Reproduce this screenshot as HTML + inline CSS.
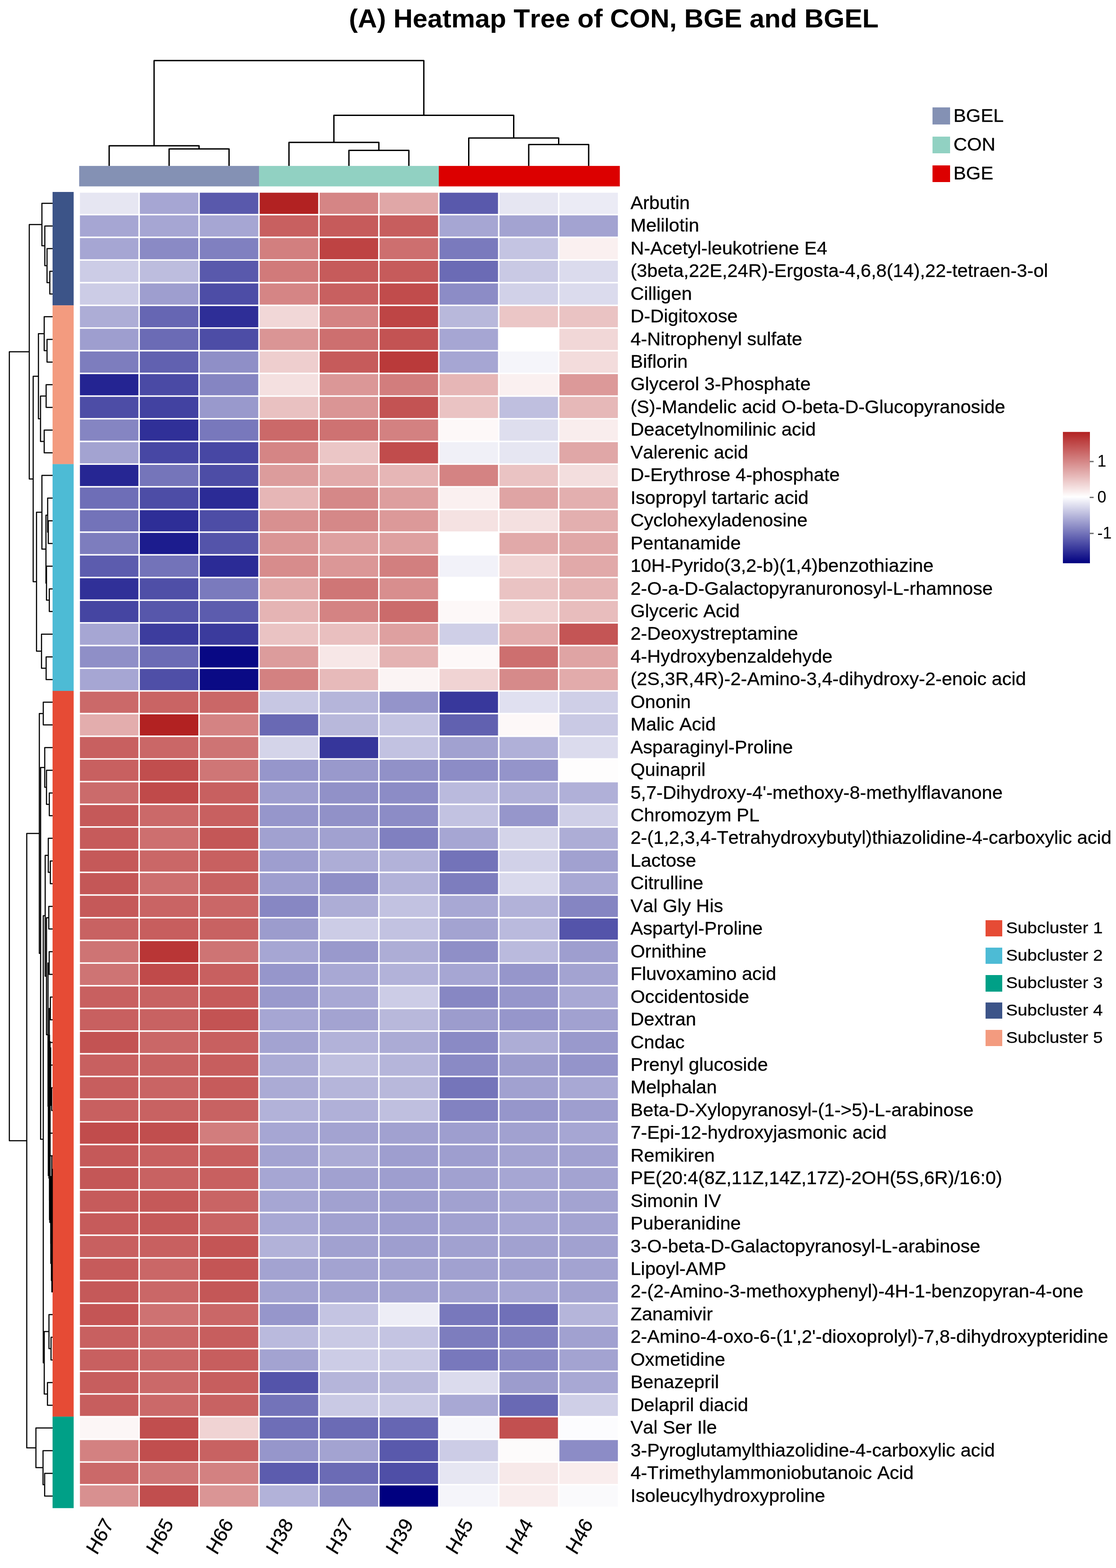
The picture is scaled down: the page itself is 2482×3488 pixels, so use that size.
<!DOCTYPE html>
<html lang="en"><head><meta charset="utf-8"><title>Heatmap Tree of CON, BGE and BGEL</title>
<style>html,body{margin:0;padding:0;background:#fff}body{width:2482px;height:3488px;overflow:hidden}svg{display:block}text{font-family:'Liberation Sans', Arial, Helvetica, sans-serif;fill:#000;font-kerning:none;font-variant-ligatures:none}.r text{stroke:#000;stroke-width:.35px;stroke-linejoin:round}</style>
</head><body>
<svg width="2482" height="3488" viewBox="0 0 2482 3488">
<rect width="2482" height="3488" fill="#fff"/>
<text transform="translate(776.0,61) scale(1,0.966)" font-size="59.41" font-weight="bold">(A) Heatmap Tree of CON, BGE and BGEL</text>
<g shape-rendering="auto">
<rect x="176.1" y="369.1" width="400.2" height="45.5" fill="#8491B4"/>
<rect x="576.0" y="369.1" width="400.2" height="45.5" fill="#91D1C2"/>
<rect x="975.9" y="369.1" width="402.6" height="45.5" fill="#DC0000"/>
</g>
<rect x="116.9" y="427.0" width="46.9" height="252.5" fill="#3C5488"/>
<rect x="116.9" y="679.2" width="46.9" height="353.5" fill="#F39B7F"/>
<rect x="116.9" y="1032.4" width="46.9" height="504.8" fill="#4DBBD5"/>
<rect x="116.9" y="1536.9" width="46.9" height="1614.7" fill="#E64B35"/>
<rect x="116.9" y="3151.3" width="46.9" height="203.5" fill="#00A087"/>
<g>
<rect x="177.75" y="428.65" width="130.00" height="47.15" fill="#e6e6f2"/>
<rect x="311.05" y="428.65" width="130.00" height="47.15" fill="#a6a6d3"/>
<rect x="444.35" y="428.65" width="130.00" height="47.15" fill="#5959ac"/>
<rect x="577.65" y="428.65" width="130.00" height="47.15" fill="#b22222"/>
<rect x="710.95" y="428.65" width="130.00" height="47.15" fill="#d58585"/>
<rect x="844.25" y="428.65" width="130.00" height="47.15" fill="#e0a7a7"/>
<rect x="977.55" y="428.65" width="130.00" height="47.15" fill="#5959ac"/>
<rect x="1110.85" y="428.65" width="130.00" height="47.15" fill="#e6e6f2"/>
<rect x="1244.15" y="428.65" width="130.00" height="47.15" fill="#ebebf5"/>
<rect x="177.75" y="479.10" width="130.00" height="47.15" fill="#a6a6d3"/>
<rect x="311.05" y="479.10" width="130.00" height="47.15" fill="#a6a6d3"/>
<rect x="444.35" y="479.10" width="130.00" height="47.15" fill="#a6a6d3"/>
<rect x="577.65" y="479.10" width="130.00" height="47.15" fill="#c86060"/>
<rect x="710.95" y="479.10" width="130.00" height="47.15" fill="#c65b5b"/>
<rect x="844.25" y="479.10" width="130.00" height="47.15" fill="#c75e5e"/>
<rect x="977.55" y="479.10" width="130.00" height="47.15" fill="#a6a6d3"/>
<rect x="1110.85" y="479.10" width="130.00" height="47.15" fill="#a3a3d1"/>
<rect x="1244.15" y="479.10" width="130.00" height="47.15" fill="#a3a3d1"/>
<rect x="177.75" y="529.55" width="130.00" height="47.15" fill="#a6a6d3"/>
<rect x="311.05" y="529.55" width="130.00" height="47.15" fill="#8a8ac5"/>
<rect x="444.35" y="529.55" width="130.00" height="47.15" fill="#8080c0"/>
<rect x="577.65" y="529.55" width="130.00" height="47.15" fill="#d27f7f"/>
<rect x="710.95" y="529.55" width="130.00" height="47.15" fill="#be4343"/>
<rect x="844.25" y="529.55" width="130.00" height="47.15" fill="#cd6f6f"/>
<rect x="977.55" y="529.55" width="130.00" height="47.15" fill="#7a7abd"/>
<rect x="1110.85" y="529.55" width="130.00" height="47.15" fill="#c4c4e2"/>
<rect x="1244.15" y="529.55" width="130.00" height="47.15" fill="#faf0f0"/>
<rect x="177.75" y="580.00" width="130.00" height="47.15" fill="#cccce6"/>
<rect x="311.05" y="580.00" width="130.00" height="47.15" fill="#bdbdde"/>
<rect x="444.35" y="580.00" width="130.00" height="47.15" fill="#5959ac"/>
<rect x="577.65" y="580.00" width="130.00" height="47.15" fill="#d17a7a"/>
<rect x="710.95" y="580.00" width="130.00" height="47.15" fill="#c65b5b"/>
<rect x="844.25" y="580.00" width="130.00" height="47.15" fill="#c65b5b"/>
<rect x="977.55" y="580.00" width="130.00" height="47.15" fill="#6b6bb5"/>
<rect x="1110.85" y="580.00" width="130.00" height="47.15" fill="#c9c9e4"/>
<rect x="1244.15" y="580.00" width="130.00" height="47.15" fill="#dbdbed"/>
<rect x="177.75" y="630.45" width="130.00" height="47.15" fill="#cccce6"/>
<rect x="311.05" y="630.45" width="130.00" height="47.15" fill="#9e9ecf"/>
<rect x="444.35" y="630.45" width="130.00" height="47.15" fill="#4d4da6"/>
<rect x="577.65" y="630.45" width="130.00" height="47.15" fill="#d58585"/>
<rect x="710.95" y="630.45" width="130.00" height="47.15" fill="#c86060"/>
<rect x="844.25" y="630.45" width="130.00" height="47.15" fill="#c14c4c"/>
<rect x="977.55" y="630.45" width="130.00" height="47.15" fill="#8c8cc6"/>
<rect x="1110.85" y="630.45" width="130.00" height="47.15" fill="#d1d1e8"/>
<rect x="1244.15" y="630.45" width="130.00" height="47.15" fill="#dbdbed"/>
<rect x="177.75" y="680.90" width="130.00" height="47.15" fill="#adadd6"/>
<rect x="311.05" y="680.90" width="130.00" height="47.15" fill="#6666b3"/>
<rect x="444.35" y="680.90" width="130.00" height="47.15" fill="#2e2e97"/>
<rect x="577.65" y="680.90" width="130.00" height="47.15" fill="#f1d7d7"/>
<rect x="710.95" y="680.90" width="130.00" height="47.15" fill="#d48383"/>
<rect x="844.25" y="680.90" width="130.00" height="47.15" fill="#be4545"/>
<rect x="977.55" y="680.90" width="130.00" height="47.15" fill="#b8b8db"/>
<rect x="1110.85" y="680.90" width="130.00" height="47.15" fill="#ebc6c6"/>
<rect x="1244.15" y="680.90" width="130.00" height="47.15" fill="#eac3c3"/>
<rect x="177.75" y="731.35" width="130.00" height="47.15" fill="#9e9ecf"/>
<rect x="311.05" y="731.35" width="130.00" height="47.15" fill="#6b6bb5"/>
<rect x="444.35" y="731.35" width="130.00" height="47.15" fill="#4d4da6"/>
<rect x="577.65" y="731.35" width="130.00" height="47.15" fill="#da9595"/>
<rect x="710.95" y="731.35" width="130.00" height="47.15" fill="#cd6f6f"/>
<rect x="844.25" y="731.35" width="130.00" height="47.15" fill="#c35353"/>
<rect x="977.55" y="731.35" width="130.00" height="47.15" fill="#a6a6d3"/>
<rect x="1110.85" y="731.35" width="130.00" height="47.15" fill="#ffffff"/>
<rect x="1244.15" y="731.35" width="130.00" height="47.15" fill="#f1d7d7"/>
<rect x="177.75" y="781.80" width="130.00" height="47.15" fill="#7d7dbe"/>
<rect x="311.05" y="781.80" width="130.00" height="47.15" fill="#6161b0"/>
<rect x="444.35" y="781.80" width="130.00" height="47.15" fill="#8f8fc7"/>
<rect x="577.65" y="781.80" width="130.00" height="47.15" fill="#eecece"/>
<rect x="710.95" y="781.80" width="130.00" height="47.15" fill="#c65b5b"/>
<rect x="844.25" y="781.80" width="130.00" height="47.15" fill="#ba3a3a"/>
<rect x="977.55" y="781.80" width="130.00" height="47.15" fill="#a6a6d3"/>
<rect x="1110.85" y="781.80" width="130.00" height="47.15" fill="#f5f5fa"/>
<rect x="1244.15" y="781.80" width="130.00" height="47.15" fill="#f3dcdc"/>
<rect x="177.75" y="832.25" width="130.00" height="47.15" fill="#242492"/>
<rect x="311.05" y="832.25" width="130.00" height="47.15" fill="#4a4aa5"/>
<rect x="444.35" y="832.25" width="130.00" height="47.15" fill="#8585c2"/>
<rect x="577.65" y="832.25" width="130.00" height="47.15" fill="#f4e0e0"/>
<rect x="710.95" y="832.25" width="130.00" height="47.15" fill="#db9797"/>
<rect x="844.25" y="832.25" width="130.00" height="47.15" fill="#d27d7d"/>
<rect x="977.55" y="832.25" width="130.00" height="47.15" fill="#e6b6b6"/>
<rect x="1110.85" y="832.25" width="130.00" height="47.15" fill="#faf0f0"/>
<rect x="1244.15" y="832.25" width="130.00" height="47.15" fill="#dc9999"/>
<rect x="177.75" y="882.70" width="130.00" height="47.15" fill="#4d4da6"/>
<rect x="311.05" y="882.70" width="130.00" height="47.15" fill="#4242a1"/>
<rect x="444.35" y="882.70" width="130.00" height="47.15" fill="#9999cc"/>
<rect x="577.65" y="882.70" width="130.00" height="47.15" fill="#e9c1c1"/>
<rect x="710.95" y="882.70" width="130.00" height="47.15" fill="#da9595"/>
<rect x="844.25" y="882.70" width="130.00" height="47.15" fill="#c35353"/>
<rect x="977.55" y="882.70" width="130.00" height="47.15" fill="#eac3c3"/>
<rect x="1110.85" y="882.70" width="130.00" height="47.15" fill="#bfbfdf"/>
<rect x="1244.15" y="882.70" width="130.00" height="47.15" fill="#e6b8b8"/>
<rect x="177.75" y="933.15" width="130.00" height="47.15" fill="#8585c2"/>
<rect x="311.05" y="933.15" width="130.00" height="47.15" fill="#303098"/>
<rect x="444.35" y="933.15" width="130.00" height="47.15" fill="#7878bc"/>
<rect x="577.65" y="933.15" width="130.00" height="47.15" fill="#cb6969"/>
<rect x="710.95" y="933.15" width="130.00" height="47.15" fill="#ce7272"/>
<rect x="844.25" y="933.15" width="130.00" height="47.15" fill="#d38181"/>
<rect x="977.55" y="933.15" width="130.00" height="47.15" fill="#fdf8f8"/>
<rect x="1110.85" y="933.15" width="130.00" height="47.15" fill="#dedeee"/>
<rect x="1244.15" y="933.15" width="130.00" height="47.15" fill="#f9eded"/>
<rect x="177.75" y="983.60" width="130.00" height="47.15" fill="#a3a3d1"/>
<rect x="311.05" y="983.60" width="130.00" height="47.15" fill="#4747a4"/>
<rect x="444.35" y="983.60" width="130.00" height="47.15" fill="#4747a4"/>
<rect x="577.65" y="983.60" width="130.00" height="47.15" fill="#d58585"/>
<rect x="710.95" y="983.60" width="130.00" height="47.15" fill="#ebc6c6"/>
<rect x="844.25" y="983.60" width="130.00" height="47.15" fill="#c14c4c"/>
<rect x="977.55" y="983.60" width="130.00" height="47.15" fill="#f0f0f7"/>
<rect x="1110.85" y="983.60" width="130.00" height="47.15" fill="#e6e6f2"/>
<rect x="1244.15" y="983.60" width="130.00" height="47.15" fill="#e0a7a7"/>
<rect x="177.75" y="1034.05" width="130.00" height="47.15" fill="#262693"/>
<rect x="311.05" y="1034.05" width="130.00" height="47.15" fill="#7575ba"/>
<rect x="444.35" y="1034.05" width="130.00" height="47.15" fill="#4d4da6"/>
<rect x="577.65" y="1034.05" width="130.00" height="47.15" fill="#dc9c9c"/>
<rect x="710.95" y="1034.05" width="130.00" height="47.15" fill="#e2abab"/>
<rect x="844.25" y="1034.05" width="130.00" height="47.15" fill="#e6b6b6"/>
<rect x="977.55" y="1034.05" width="130.00" height="47.15" fill="#d48383"/>
<rect x="1110.85" y="1034.05" width="130.00" height="47.15" fill="#eac3c3"/>
<rect x="1244.15" y="1034.05" width="130.00" height="47.15" fill="#f3dede"/>
<rect x="177.75" y="1084.50" width="130.00" height="47.15" fill="#6e6eb7"/>
<rect x="311.05" y="1084.50" width="130.00" height="47.15" fill="#4d4da6"/>
<rect x="444.35" y="1084.50" width="130.00" height="47.15" fill="#2b2b96"/>
<rect x="577.65" y="1084.50" width="130.00" height="47.15" fill="#e6b6b6"/>
<rect x="710.95" y="1084.50" width="130.00" height="47.15" fill="#d58888"/>
<rect x="844.25" y="1084.50" width="130.00" height="47.15" fill="#dd9e9e"/>
<rect x="977.55" y="1084.50" width="130.00" height="47.15" fill="#faf0f0"/>
<rect x="1110.85" y="1084.50" width="130.00" height="47.15" fill="#dfa4a4"/>
<rect x="1244.15" y="1084.50" width="130.00" height="47.15" fill="#e3afaf"/>
<rect x="177.75" y="1134.95" width="130.00" height="47.15" fill="#7373b9"/>
<rect x="311.05" y="1134.95" width="130.00" height="47.15" fill="#2e2e97"/>
<rect x="444.35" y="1134.95" width="130.00" height="47.15" fill="#4d4da6"/>
<rect x="577.65" y="1134.95" width="130.00" height="47.15" fill="#d89090"/>
<rect x="710.95" y="1134.95" width="130.00" height="47.15" fill="#d58888"/>
<rect x="844.25" y="1134.95" width="130.00" height="47.15" fill="#dc9999"/>
<rect x="977.55" y="1134.95" width="130.00" height="47.15" fill="#f5e2e2"/>
<rect x="1110.85" y="1134.95" width="130.00" height="47.15" fill="#f4e0e0"/>
<rect x="1244.15" y="1134.95" width="130.00" height="47.15" fill="#e3afaf"/>
<rect x="177.75" y="1185.40" width="130.00" height="47.15" fill="#7d7dbe"/>
<rect x="311.05" y="1185.40" width="130.00" height="47.15" fill="#1c1c8e"/>
<rect x="444.35" y="1185.40" width="130.00" height="47.15" fill="#5454aa"/>
<rect x="577.65" y="1185.40" width="130.00" height="47.15" fill="#da9595"/>
<rect x="710.95" y="1185.40" width="130.00" height="47.15" fill="#dea0a0"/>
<rect x="844.25" y="1185.40" width="130.00" height="47.15" fill="#dea0a0"/>
<rect x="977.55" y="1185.40" width="130.00" height="47.15" fill="#ffffff"/>
<rect x="1110.85" y="1185.40" width="130.00" height="47.15" fill="#e1a9a9"/>
<rect x="1244.15" y="1185.40" width="130.00" height="47.15" fill="#e0a7a7"/>
<rect x="177.75" y="1235.85" width="130.00" height="47.15" fill="#5c5cae"/>
<rect x="311.05" y="1235.85" width="130.00" height="47.15" fill="#7373b9"/>
<rect x="444.35" y="1235.85" width="130.00" height="47.15" fill="#2b2b96"/>
<rect x="577.65" y="1235.85" width="130.00" height="47.15" fill="#d78c8c"/>
<rect x="710.95" y="1235.85" width="130.00" height="47.15" fill="#db9797"/>
<rect x="844.25" y="1235.85" width="130.00" height="47.15" fill="#d27f7f"/>
<rect x="977.55" y="1235.85" width="130.00" height="47.15" fill="#f2f2f9"/>
<rect x="1110.85" y="1235.85" width="130.00" height="47.15" fill="#f0d3d3"/>
<rect x="1244.15" y="1235.85" width="130.00" height="47.15" fill="#e1a9a9"/>
<rect x="177.75" y="1286.30" width="130.00" height="47.15" fill="#303098"/>
<rect x="311.05" y="1286.30" width="130.00" height="47.15" fill="#4f4fa7"/>
<rect x="444.35" y="1286.30" width="130.00" height="47.15" fill="#7a7abd"/>
<rect x="577.65" y="1286.30" width="130.00" height="47.15" fill="#e1a9a9"/>
<rect x="710.95" y="1286.30" width="130.00" height="47.15" fill="#cf7676"/>
<rect x="844.25" y="1286.30" width="130.00" height="47.15" fill="#d88e8e"/>
<rect x="977.55" y="1286.30" width="130.00" height="47.15" fill="#ffffff"/>
<rect x="1110.85" y="1286.30" width="130.00" height="47.15" fill="#eac3c3"/>
<rect x="1244.15" y="1286.30" width="130.00" height="47.15" fill="#e5b4b4"/>
<rect x="177.75" y="1336.75" width="130.00" height="47.15" fill="#4545a2"/>
<rect x="311.05" y="1336.75" width="130.00" height="47.15" fill="#5757ab"/>
<rect x="444.35" y="1336.75" width="130.00" height="47.15" fill="#5c5cae"/>
<rect x="577.65" y="1336.75" width="130.00" height="47.15" fill="#e5b4b4"/>
<rect x="710.95" y="1336.75" width="130.00" height="47.15" fill="#d48383"/>
<rect x="844.25" y="1336.75" width="130.00" height="47.15" fill="#cb6b6b"/>
<rect x="977.55" y="1336.75" width="130.00" height="47.15" fill="#fdf8f8"/>
<rect x="1110.85" y="1336.75" width="130.00" height="47.15" fill="#efd1d1"/>
<rect x="1244.15" y="1336.75" width="130.00" height="47.15" fill="#e8bdbd"/>
<rect x="177.75" y="1387.20" width="130.00" height="47.15" fill="#a6a6d3"/>
<rect x="311.05" y="1387.20" width="130.00" height="47.15" fill="#3d3d9e"/>
<rect x="444.35" y="1387.20" width="130.00" height="47.15" fill="#3b3b9d"/>
<rect x="577.65" y="1387.20" width="130.00" height="47.15" fill="#eac3c3"/>
<rect x="710.95" y="1387.20" width="130.00" height="47.15" fill="#e9bfbf"/>
<rect x="844.25" y="1387.20" width="130.00" height="47.15" fill="#dea0a0"/>
<rect x="977.55" y="1387.20" width="130.00" height="47.15" fill="#cfcfe7"/>
<rect x="1110.85" y="1387.20" width="130.00" height="47.15" fill="#e3adad"/>
<rect x="1244.15" y="1387.20" width="130.00" height="47.15" fill="#c45555"/>
<rect x="177.75" y="1437.65" width="130.00" height="47.15" fill="#8f8fc7"/>
<rect x="311.05" y="1437.65" width="130.00" height="47.15" fill="#6b6bb5"/>
<rect x="444.35" y="1437.65" width="130.00" height="47.15" fill="#080884"/>
<rect x="577.65" y="1437.65" width="130.00" height="47.15" fill="#dc9c9c"/>
<rect x="710.95" y="1437.65" width="130.00" height="47.15" fill="#f7e7e7"/>
<rect x="844.25" y="1437.65" width="130.00" height="47.15" fill="#e4b2b2"/>
<rect x="977.55" y="1437.65" width="130.00" height="47.15" fill="#fdf8f8"/>
<rect x="1110.85" y="1437.65" width="130.00" height="47.15" fill="#cd6f6f"/>
<rect x="1244.15" y="1437.65" width="130.00" height="47.15" fill="#dfa4a4"/>
<rect x="177.75" y="1488.10" width="130.00" height="47.15" fill="#a6a6d3"/>
<rect x="311.05" y="1488.10" width="130.00" height="47.15" fill="#4f4fa7"/>
<rect x="444.35" y="1488.10" width="130.00" height="47.15" fill="#0a0a85"/>
<rect x="577.65" y="1488.10" width="130.00" height="47.15" fill="#d38181"/>
<rect x="710.95" y="1488.10" width="130.00" height="47.15" fill="#e7baba"/>
<rect x="844.25" y="1488.10" width="130.00" height="47.15" fill="#fbf4f4"/>
<rect x="977.55" y="1488.10" width="130.00" height="47.15" fill="#f0d3d3"/>
<rect x="1110.85" y="1488.10" width="130.00" height="47.15" fill="#d68a8a"/>
<rect x="1244.15" y="1488.10" width="130.00" height="47.15" fill="#e2abab"/>
<rect x="177.75" y="1538.55" width="130.00" height="47.15" fill="#cb6969"/>
<rect x="311.05" y="1538.55" width="130.00" height="47.15" fill="#c96464"/>
<rect x="444.35" y="1538.55" width="130.00" height="47.15" fill="#ca6767"/>
<rect x="577.65" y="1538.55" width="130.00" height="47.15" fill="#c7c7e3"/>
<rect x="710.95" y="1538.55" width="130.00" height="47.15" fill="#b5b5da"/>
<rect x="844.25" y="1538.55" width="130.00" height="47.15" fill="#9494ca"/>
<rect x="977.55" y="1538.55" width="130.00" height="47.15" fill="#38389c"/>
<rect x="1110.85" y="1538.55" width="130.00" height="47.15" fill="#e0e0f0"/>
<rect x="1244.15" y="1538.55" width="130.00" height="47.15" fill="#cfcfe7"/>
<rect x="177.75" y="1589.00" width="130.00" height="47.15" fill="#e3adad"/>
<rect x="311.05" y="1589.00" width="130.00" height="47.15" fill="#b22222"/>
<rect x="444.35" y="1589.00" width="130.00" height="47.15" fill="#d48383"/>
<rect x="577.65" y="1589.00" width="130.00" height="47.15" fill="#6969b4"/>
<rect x="710.95" y="1589.00" width="130.00" height="47.15" fill="#b8b8db"/>
<rect x="844.25" y="1589.00" width="130.00" height="47.15" fill="#c4c4e2"/>
<rect x="977.55" y="1589.00" width="130.00" height="47.15" fill="#6161b0"/>
<rect x="1110.85" y="1589.00" width="130.00" height="47.15" fill="#fdf8f8"/>
<rect x="1244.15" y="1589.00" width="130.00" height="47.15" fill="#c9c9e4"/>
<rect x="177.75" y="1639.45" width="130.00" height="47.15" fill="#c86060"/>
<rect x="311.05" y="1639.45" width="130.00" height="47.15" fill="#ca6767"/>
<rect x="444.35" y="1639.45" width="130.00" height="47.15" fill="#ce7474"/>
<rect x="577.65" y="1639.45" width="130.00" height="47.15" fill="#d4d4e9"/>
<rect x="710.95" y="1639.45" width="130.00" height="47.15" fill="#36369b"/>
<rect x="844.25" y="1639.45" width="130.00" height="47.15" fill="#c2c2e1"/>
<rect x="977.55" y="1639.45" width="130.00" height="47.15" fill="#a1a1d0"/>
<rect x="1110.85" y="1639.45" width="130.00" height="47.15" fill="#b0b0d8"/>
<rect x="1244.15" y="1639.45" width="130.00" height="47.15" fill="#dbdbed"/>
<rect x="177.75" y="1689.90" width="130.00" height="47.15" fill="#c86060"/>
<rect x="311.05" y="1689.90" width="130.00" height="47.15" fill="#c14e4e"/>
<rect x="444.35" y="1689.90" width="130.00" height="47.15" fill="#cf7676"/>
<rect x="577.65" y="1689.90" width="130.00" height="47.15" fill="#9696cb"/>
<rect x="710.95" y="1689.90" width="130.00" height="47.15" fill="#9999cc"/>
<rect x="844.25" y="1689.90" width="130.00" height="47.15" fill="#9191c8"/>
<rect x="977.55" y="1689.90" width="130.00" height="47.15" fill="#8c8cc6"/>
<rect x="1110.85" y="1689.90" width="130.00" height="47.15" fill="#9494ca"/>
<rect x="1244.15" y="1689.90" width="130.00" height="47.15" fill="#fefdfd"/>
<rect x="177.75" y="1740.35" width="130.00" height="47.15" fill="#cb6b6b"/>
<rect x="311.05" y="1740.35" width="130.00" height="47.15" fill="#c04a4a"/>
<rect x="444.35" y="1740.35" width="130.00" height="47.15" fill="#c86060"/>
<rect x="577.65" y="1740.35" width="130.00" height="47.15" fill="#9e9ecf"/>
<rect x="710.95" y="1740.35" width="130.00" height="47.15" fill="#9191c8"/>
<rect x="844.25" y="1740.35" width="130.00" height="47.15" fill="#8c8cc6"/>
<rect x="977.55" y="1740.35" width="130.00" height="47.15" fill="#babadd"/>
<rect x="1110.85" y="1740.35" width="130.00" height="47.15" fill="#b0b0d8"/>
<rect x="1244.15" y="1740.35" width="130.00" height="47.15" fill="#b0b0d8"/>
<rect x="177.75" y="1790.80" width="130.00" height="47.15" fill="#c55959"/>
<rect x="311.05" y="1790.80" width="130.00" height="47.15" fill="#cb6969"/>
<rect x="444.35" y="1790.80" width="130.00" height="47.15" fill="#c86060"/>
<rect x="577.65" y="1790.80" width="130.00" height="47.15" fill="#9696cb"/>
<rect x="710.95" y="1790.80" width="130.00" height="47.15" fill="#9191c8"/>
<rect x="844.25" y="1790.80" width="130.00" height="47.15" fill="#8c8cc6"/>
<rect x="977.55" y="1790.80" width="130.00" height="47.15" fill="#c2c2e1"/>
<rect x="1110.85" y="1790.80" width="130.00" height="47.15" fill="#9696cb"/>
<rect x="1244.15" y="1790.80" width="130.00" height="47.15" fill="#cfcfe7"/>
<rect x="177.75" y="1841.25" width="130.00" height="47.15" fill="#c65b5b"/>
<rect x="311.05" y="1841.25" width="130.00" height="47.15" fill="#cd6f6f"/>
<rect x="444.35" y="1841.25" width="130.00" height="47.15" fill="#c45757"/>
<rect x="577.65" y="1841.25" width="130.00" height="47.15" fill="#a1a1d0"/>
<rect x="710.95" y="1841.25" width="130.00" height="47.15" fill="#a1a1d0"/>
<rect x="844.25" y="1841.25" width="130.00" height="47.15" fill="#8080c0"/>
<rect x="977.55" y="1841.25" width="130.00" height="47.15" fill="#a6a6d3"/>
<rect x="1110.85" y="1841.25" width="130.00" height="47.15" fill="#d4d4e9"/>
<rect x="1244.15" y="1841.25" width="130.00" height="47.15" fill="#adadd6"/>
<rect x="177.75" y="1891.70" width="130.00" height="47.15" fill="#c55959"/>
<rect x="311.05" y="1891.70" width="130.00" height="47.15" fill="#ca6767"/>
<rect x="444.35" y="1891.70" width="130.00" height="47.15" fill="#c86060"/>
<rect x="577.65" y="1891.70" width="130.00" height="47.15" fill="#9e9ecf"/>
<rect x="710.95" y="1891.70" width="130.00" height="47.15" fill="#adadd6"/>
<rect x="844.25" y="1891.70" width="130.00" height="47.15" fill="#b2b2d9"/>
<rect x="977.55" y="1891.70" width="130.00" height="47.15" fill="#7373b9"/>
<rect x="1110.85" y="1891.70" width="130.00" height="47.15" fill="#d1d1e8"/>
<rect x="1244.15" y="1891.70" width="130.00" height="47.15" fill="#a1a1d0"/>
<rect x="177.75" y="1942.15" width="130.00" height="47.15" fill="#c45757"/>
<rect x="311.05" y="1942.15" width="130.00" height="47.15" fill="#cd6f6f"/>
<rect x="444.35" y="1942.15" width="130.00" height="47.15" fill="#c86262"/>
<rect x="577.65" y="1942.15" width="130.00" height="47.15" fill="#9e9ecf"/>
<rect x="710.95" y="1942.15" width="130.00" height="47.15" fill="#8f8fc7"/>
<rect x="844.25" y="1942.15" width="130.00" height="47.15" fill="#b2b2d9"/>
<rect x="977.55" y="1942.15" width="130.00" height="47.15" fill="#7d7dbe"/>
<rect x="1110.85" y="1942.15" width="130.00" height="47.15" fill="#d9d9ec"/>
<rect x="1244.15" y="1942.15" width="130.00" height="47.15" fill="#a8a8d4"/>
<rect x="177.75" y="1992.60" width="130.00" height="47.15" fill="#c55959"/>
<rect x="311.05" y="1992.60" width="130.00" height="47.15" fill="#c96464"/>
<rect x="444.35" y="1992.60" width="130.00" height="47.15" fill="#ca6767"/>
<rect x="577.65" y="1992.60" width="130.00" height="47.15" fill="#8787c3"/>
<rect x="710.95" y="1992.60" width="130.00" height="47.15" fill="#adadd6"/>
<rect x="844.25" y="1992.60" width="130.00" height="47.15" fill="#c2c2e1"/>
<rect x="977.55" y="1992.60" width="130.00" height="47.15" fill="#a8a8d4"/>
<rect x="1110.85" y="1992.60" width="130.00" height="47.15" fill="#b2b2d9"/>
<rect x="1244.15" y="1992.60" width="130.00" height="47.15" fill="#8585c2"/>
<rect x="177.75" y="2043.05" width="130.00" height="47.15" fill="#c86262"/>
<rect x="311.05" y="2043.05" width="130.00" height="47.15" fill="#c75e5e"/>
<rect x="444.35" y="2043.05" width="130.00" height="47.15" fill="#c86262"/>
<rect x="577.65" y="2043.05" width="130.00" height="47.15" fill="#9c9ccd"/>
<rect x="710.95" y="2043.05" width="130.00" height="47.15" fill="#cccce6"/>
<rect x="844.25" y="2043.05" width="130.00" height="47.15" fill="#c2c2e1"/>
<rect x="977.55" y="2043.05" width="130.00" height="47.15" fill="#a3a3d1"/>
<rect x="1110.85" y="2043.05" width="130.00" height="47.15" fill="#babadd"/>
<rect x="1244.15" y="2043.05" width="130.00" height="47.15" fill="#5454aa"/>
<rect x="177.75" y="2093.50" width="130.00" height="47.15" fill="#ce7474"/>
<rect x="311.05" y="2093.50" width="130.00" height="47.15" fill="#b93636"/>
<rect x="444.35" y="2093.50" width="130.00" height="47.15" fill="#ce7474"/>
<rect x="577.65" y="2093.50" width="130.00" height="47.15" fill="#a6a6d3"/>
<rect x="710.95" y="2093.50" width="130.00" height="47.15" fill="#9999cc"/>
<rect x="844.25" y="2093.50" width="130.00" height="47.15" fill="#adadd6"/>
<rect x="977.55" y="2093.50" width="130.00" height="47.15" fill="#8f8fc7"/>
<rect x="1110.85" y="2093.50" width="130.00" height="47.15" fill="#babadd"/>
<rect x="1244.15" y="2093.50" width="130.00" height="47.15" fill="#9e9ecf"/>
<rect x="177.75" y="2143.95" width="130.00" height="47.15" fill="#ce7474"/>
<rect x="311.05" y="2143.95" width="130.00" height="47.15" fill="#c04a4a"/>
<rect x="444.35" y="2143.95" width="130.00" height="47.15" fill="#c86060"/>
<rect x="577.65" y="2143.95" width="130.00" height="47.15" fill="#9696cb"/>
<rect x="710.95" y="2143.95" width="130.00" height="47.15" fill="#a8a8d4"/>
<rect x="844.25" y="2143.95" width="130.00" height="47.15" fill="#b2b2d9"/>
<rect x="977.55" y="2143.95" width="130.00" height="47.15" fill="#a6a6d3"/>
<rect x="1110.85" y="2143.95" width="130.00" height="47.15" fill="#9696cb"/>
<rect x="1244.15" y="2143.95" width="130.00" height="47.15" fill="#a3a3d1"/>
<rect x="177.75" y="2194.40" width="130.00" height="47.15" fill="#c86060"/>
<rect x="311.05" y="2194.40" width="130.00" height="47.15" fill="#c86262"/>
<rect x="444.35" y="2194.40" width="130.00" height="47.15" fill="#c65b5b"/>
<rect x="577.65" y="2194.40" width="130.00" height="47.15" fill="#9999cc"/>
<rect x="710.95" y="2194.40" width="130.00" height="47.15" fill="#a8a8d4"/>
<rect x="844.25" y="2194.40" width="130.00" height="47.15" fill="#cccce6"/>
<rect x="977.55" y="2194.40" width="130.00" height="47.15" fill="#8787c3"/>
<rect x="1110.85" y="2194.40" width="130.00" height="47.15" fill="#9696cb"/>
<rect x="1244.15" y="2194.40" width="130.00" height="47.15" fill="#a8a8d4"/>
<rect x="177.75" y="2244.85" width="130.00" height="47.15" fill="#c86060"/>
<rect x="311.05" y="2244.85" width="130.00" height="47.15" fill="#c86262"/>
<rect x="444.35" y="2244.85" width="130.00" height="47.15" fill="#c35353"/>
<rect x="577.65" y="2244.85" width="130.00" height="47.15" fill="#a6a6d3"/>
<rect x="710.95" y="2244.85" width="130.00" height="47.15" fill="#a3a3d1"/>
<rect x="844.25" y="2244.85" width="130.00" height="47.15" fill="#b8b8db"/>
<rect x="977.55" y="2244.85" width="130.00" height="47.15" fill="#9c9ccd"/>
<rect x="1110.85" y="2244.85" width="130.00" height="47.15" fill="#9696cb"/>
<rect x="1244.15" y="2244.85" width="130.00" height="47.15" fill="#a1a1d0"/>
<rect x="177.75" y="2295.30" width="130.00" height="47.15" fill="#c35353"/>
<rect x="311.05" y="2295.30" width="130.00" height="47.15" fill="#ca6767"/>
<rect x="444.35" y="2295.30" width="130.00" height="47.15" fill="#c86060"/>
<rect x="577.65" y="2295.30" width="130.00" height="47.15" fill="#a3a3d1"/>
<rect x="710.95" y="2295.30" width="130.00" height="47.15" fill="#b2b2d9"/>
<rect x="844.25" y="2295.30" width="130.00" height="47.15" fill="#ababd5"/>
<rect x="977.55" y="2295.30" width="130.00" height="47.15" fill="#8a8ac5"/>
<rect x="1110.85" y="2295.30" width="130.00" height="47.15" fill="#adadd6"/>
<rect x="1244.15" y="2295.30" width="130.00" height="47.15" fill="#9999cc"/>
<rect x="177.75" y="2345.75" width="130.00" height="47.15" fill="#c86060"/>
<rect x="311.05" y="2345.75" width="130.00" height="47.15" fill="#c86262"/>
<rect x="444.35" y="2345.75" width="130.00" height="47.15" fill="#c75e5e"/>
<rect x="577.65" y="2345.75" width="130.00" height="47.15" fill="#ababd5"/>
<rect x="710.95" y="2345.75" width="130.00" height="47.15" fill="#bfbfdf"/>
<rect x="844.25" y="2345.75" width="130.00" height="47.15" fill="#b5b5da"/>
<rect x="977.55" y="2345.75" width="130.00" height="47.15" fill="#8a8ac5"/>
<rect x="1110.85" y="2345.75" width="130.00" height="47.15" fill="#9c9ccd"/>
<rect x="1244.15" y="2345.75" width="130.00" height="47.15" fill="#9494ca"/>
<rect x="177.75" y="2396.20" width="130.00" height="47.15" fill="#c75e5e"/>
<rect x="311.05" y="2396.20" width="130.00" height="47.15" fill="#c96464"/>
<rect x="444.35" y="2396.20" width="130.00" height="47.15" fill="#c65b5b"/>
<rect x="577.65" y="2396.20" width="130.00" height="47.15" fill="#ababd5"/>
<rect x="710.95" y="2396.20" width="130.00" height="47.15" fill="#b5b5da"/>
<rect x="844.25" y="2396.20" width="130.00" height="47.15" fill="#b8b8db"/>
<rect x="977.55" y="2396.20" width="130.00" height="47.15" fill="#7575ba"/>
<rect x="1110.85" y="2396.20" width="130.00" height="47.15" fill="#a1a1d0"/>
<rect x="1244.15" y="2396.20" width="130.00" height="47.15" fill="#a8a8d4"/>
<rect x="177.75" y="2446.65" width="130.00" height="47.15" fill="#c86060"/>
<rect x="311.05" y="2446.65" width="130.00" height="47.15" fill="#c86262"/>
<rect x="444.35" y="2446.65" width="130.00" height="47.15" fill="#c86262"/>
<rect x="577.65" y="2446.65" width="130.00" height="47.15" fill="#b2b2d9"/>
<rect x="710.95" y="2446.65" width="130.00" height="47.15" fill="#b0b0d8"/>
<rect x="844.25" y="2446.65" width="130.00" height="47.15" fill="#bfbfdf"/>
<rect x="977.55" y="2446.65" width="130.00" height="47.15" fill="#8282c1"/>
<rect x="1110.85" y="2446.65" width="130.00" height="47.15" fill="#9696cb"/>
<rect x="1244.15" y="2446.65" width="130.00" height="47.15" fill="#9e9ecf"/>
<rect x="177.75" y="2497.10" width="130.00" height="47.15" fill="#c14c4c"/>
<rect x="311.05" y="2497.10" width="130.00" height="47.15" fill="#c14e4e"/>
<rect x="444.35" y="2497.10" width="130.00" height="47.15" fill="#d27d7d"/>
<rect x="577.65" y="2497.10" width="130.00" height="47.15" fill="#a6a6d3"/>
<rect x="710.95" y="2497.10" width="130.00" height="47.15" fill="#a3a3d1"/>
<rect x="844.25" y="2497.10" width="130.00" height="47.15" fill="#a1a1d0"/>
<rect x="977.55" y="2497.10" width="130.00" height="47.15" fill="#9e9ecf"/>
<rect x="1110.85" y="2497.10" width="130.00" height="47.15" fill="#a1a1d0"/>
<rect x="1244.15" y="2497.10" width="130.00" height="47.15" fill="#a6a6d3"/>
<rect x="177.75" y="2547.55" width="130.00" height="47.15" fill="#c55959"/>
<rect x="311.05" y="2547.55" width="130.00" height="47.15" fill="#c86060"/>
<rect x="444.35" y="2547.55" width="130.00" height="47.15" fill="#c86060"/>
<rect x="577.65" y="2547.55" width="130.00" height="47.15" fill="#a3a3d1"/>
<rect x="710.95" y="2547.55" width="130.00" height="47.15" fill="#ababd5"/>
<rect x="844.25" y="2547.55" width="130.00" height="47.15" fill="#9e9ecf"/>
<rect x="977.55" y="2547.55" width="130.00" height="47.15" fill="#9e9ecf"/>
<rect x="1110.85" y="2547.55" width="130.00" height="47.15" fill="#a3a3d1"/>
<rect x="1244.15" y="2547.55" width="130.00" height="47.15" fill="#a1a1d0"/>
<rect x="177.75" y="2598.00" width="130.00" height="47.15" fill="#c45757"/>
<rect x="311.05" y="2598.00" width="130.00" height="47.15" fill="#c86262"/>
<rect x="444.35" y="2598.00" width="130.00" height="47.15" fill="#c86060"/>
<rect x="577.65" y="2598.00" width="130.00" height="47.15" fill="#a6a6d3"/>
<rect x="710.95" y="2598.00" width="130.00" height="47.15" fill="#a1a1d0"/>
<rect x="844.25" y="2598.00" width="130.00" height="47.15" fill="#9e9ecf"/>
<rect x="977.55" y="2598.00" width="130.00" height="47.15" fill="#a1a1d0"/>
<rect x="1110.85" y="2598.00" width="130.00" height="47.15" fill="#a6a6d3"/>
<rect x="1244.15" y="2598.00" width="130.00" height="47.15" fill="#a3a3d1"/>
<rect x="177.75" y="2648.45" width="130.00" height="47.15" fill="#c65b5b"/>
<rect x="311.05" y="2648.45" width="130.00" height="47.15" fill="#c55959"/>
<rect x="444.35" y="2648.45" width="130.00" height="47.15" fill="#c96464"/>
<rect x="577.65" y="2648.45" width="130.00" height="47.15" fill="#a6a6d3"/>
<rect x="710.95" y="2648.45" width="130.00" height="47.15" fill="#a1a1d0"/>
<rect x="844.25" y="2648.45" width="130.00" height="47.15" fill="#9e9ecf"/>
<rect x="977.55" y="2648.45" width="130.00" height="47.15" fill="#a1a1d0"/>
<rect x="1110.85" y="2648.45" width="130.00" height="47.15" fill="#a6a6d3"/>
<rect x="1244.15" y="2648.45" width="130.00" height="47.15" fill="#a3a3d1"/>
<rect x="177.75" y="2698.90" width="130.00" height="47.15" fill="#c65b5b"/>
<rect x="311.05" y="2698.90" width="130.00" height="47.15" fill="#c55959"/>
<rect x="444.35" y="2698.90" width="130.00" height="47.15" fill="#c96464"/>
<rect x="577.65" y="2698.90" width="130.00" height="47.15" fill="#a8a8d4"/>
<rect x="710.95" y="2698.90" width="130.00" height="47.15" fill="#a1a1d0"/>
<rect x="844.25" y="2698.90" width="130.00" height="47.15" fill="#9e9ecf"/>
<rect x="977.55" y="2698.90" width="130.00" height="47.15" fill="#a1a1d0"/>
<rect x="1110.85" y="2698.90" width="130.00" height="47.15" fill="#a6a6d3"/>
<rect x="1244.15" y="2698.90" width="130.00" height="47.15" fill="#a3a3d1"/>
<rect x="177.75" y="2749.35" width="130.00" height="47.15" fill="#c86060"/>
<rect x="311.05" y="2749.35" width="130.00" height="47.15" fill="#c86060"/>
<rect x="444.35" y="2749.35" width="130.00" height="47.15" fill="#c45555"/>
<rect x="577.65" y="2749.35" width="130.00" height="47.15" fill="#b2b2d9"/>
<rect x="710.95" y="2749.35" width="130.00" height="47.15" fill="#a1a1d0"/>
<rect x="844.25" y="2749.35" width="130.00" height="47.15" fill="#9e9ecf"/>
<rect x="977.55" y="2749.35" width="130.00" height="47.15" fill="#a1a1d0"/>
<rect x="1110.85" y="2749.35" width="130.00" height="47.15" fill="#a1a1d0"/>
<rect x="1244.15" y="2749.35" width="130.00" height="47.15" fill="#a1a1d0"/>
<rect x="177.75" y="2799.80" width="130.00" height="47.15" fill="#c65b5b"/>
<rect x="311.05" y="2799.80" width="130.00" height="47.15" fill="#ca6767"/>
<rect x="444.35" y="2799.80" width="130.00" height="47.15" fill="#c45555"/>
<rect x="577.65" y="2799.80" width="130.00" height="47.15" fill="#a3a3d1"/>
<rect x="710.95" y="2799.80" width="130.00" height="47.15" fill="#a3a3d1"/>
<rect x="844.25" y="2799.80" width="130.00" height="47.15" fill="#a3a3d1"/>
<rect x="977.55" y="2799.80" width="130.00" height="47.15" fill="#a1a1d0"/>
<rect x="1110.85" y="2799.80" width="130.00" height="47.15" fill="#a1a1d0"/>
<rect x="1244.15" y="2799.80" width="130.00" height="47.15" fill="#a3a3d1"/>
<rect x="177.75" y="2850.25" width="130.00" height="47.15" fill="#c55959"/>
<rect x="311.05" y="2850.25" width="130.00" height="47.15" fill="#ca6767"/>
<rect x="444.35" y="2850.25" width="130.00" height="47.15" fill="#c45757"/>
<rect x="577.65" y="2850.25" width="130.00" height="47.15" fill="#a3a3d1"/>
<rect x="710.95" y="2850.25" width="130.00" height="47.15" fill="#a3a3d1"/>
<rect x="844.25" y="2850.25" width="130.00" height="47.15" fill="#a3a3d1"/>
<rect x="977.55" y="2850.25" width="130.00" height="47.15" fill="#a1a1d0"/>
<rect x="1110.85" y="2850.25" width="130.00" height="47.15" fill="#a6a6d3"/>
<rect x="1244.15" y="2850.25" width="130.00" height="47.15" fill="#a3a3d1"/>
<rect x="177.75" y="2900.70" width="130.00" height="47.15" fill="#c45555"/>
<rect x="311.05" y="2900.70" width="130.00" height="47.15" fill="#ce7272"/>
<rect x="444.35" y="2900.70" width="130.00" height="47.15" fill="#ca6767"/>
<rect x="577.65" y="2900.70" width="130.00" height="47.15" fill="#9696cb"/>
<rect x="710.95" y="2900.70" width="130.00" height="47.15" fill="#c4c4e2"/>
<rect x="844.25" y="2900.70" width="130.00" height="47.15" fill="#ededf6"/>
<rect x="977.55" y="2900.70" width="130.00" height="47.15" fill="#7878bc"/>
<rect x="1110.85" y="2900.70" width="130.00" height="47.15" fill="#7070b8"/>
<rect x="1244.15" y="2900.70" width="130.00" height="47.15" fill="#b5b5da"/>
<rect x="177.75" y="2951.15" width="130.00" height="47.15" fill="#c86060"/>
<rect x="311.05" y="2951.15" width="130.00" height="47.15" fill="#ca6767"/>
<rect x="444.35" y="2951.15" width="130.00" height="47.15" fill="#c75e5e"/>
<rect x="577.65" y="2951.15" width="130.00" height="47.15" fill="#babadd"/>
<rect x="710.95" y="2951.15" width="130.00" height="47.15" fill="#c9c9e4"/>
<rect x="844.25" y="2951.15" width="130.00" height="47.15" fill="#c4c4e2"/>
<rect x="977.55" y="2951.15" width="130.00" height="47.15" fill="#7d7dbe"/>
<rect x="1110.85" y="2951.15" width="130.00" height="47.15" fill="#8080c0"/>
<rect x="1244.15" y="2951.15" width="130.00" height="47.15" fill="#a1a1d0"/>
<rect x="177.75" y="3001.60" width="130.00" height="47.15" fill="#c86060"/>
<rect x="311.05" y="3001.60" width="130.00" height="47.15" fill="#ca6767"/>
<rect x="444.35" y="3001.60" width="130.00" height="47.15" fill="#c75e5e"/>
<rect x="577.65" y="3001.60" width="130.00" height="47.15" fill="#a3a3d1"/>
<rect x="710.95" y="3001.60" width="130.00" height="47.15" fill="#cccce6"/>
<rect x="844.25" y="3001.60" width="130.00" height="47.15" fill="#c9c9e4"/>
<rect x="977.55" y="3001.60" width="130.00" height="47.15" fill="#7878bc"/>
<rect x="1110.85" y="3001.60" width="130.00" height="47.15" fill="#8a8ac5"/>
<rect x="1244.15" y="3001.60" width="130.00" height="47.15" fill="#a3a3d1"/>
<rect x="177.75" y="3052.05" width="130.00" height="47.15" fill="#c75e5e"/>
<rect x="311.05" y="3052.05" width="130.00" height="47.15" fill="#cb6969"/>
<rect x="444.35" y="3052.05" width="130.00" height="47.15" fill="#c75e5e"/>
<rect x="577.65" y="3052.05" width="130.00" height="47.15" fill="#5454aa"/>
<rect x="710.95" y="3052.05" width="130.00" height="47.15" fill="#b5b5da"/>
<rect x="844.25" y="3052.05" width="130.00" height="47.15" fill="#b8b8db"/>
<rect x="977.55" y="3052.05" width="130.00" height="47.15" fill="#dbdbed"/>
<rect x="1110.85" y="3052.05" width="130.00" height="47.15" fill="#9c9ccd"/>
<rect x="1244.15" y="3052.05" width="130.00" height="47.15" fill="#a8a8d4"/>
<rect x="177.75" y="3102.50" width="130.00" height="47.15" fill="#c75e5e"/>
<rect x="311.05" y="3102.50" width="130.00" height="47.15" fill="#cb6969"/>
<rect x="444.35" y="3102.50" width="130.00" height="47.15" fill="#c86262"/>
<rect x="577.65" y="3102.50" width="130.00" height="47.15" fill="#7373b9"/>
<rect x="710.95" y="3102.50" width="130.00" height="47.15" fill="#c9c9e4"/>
<rect x="844.25" y="3102.50" width="130.00" height="47.15" fill="#c9c9e4"/>
<rect x="977.55" y="3102.50" width="130.00" height="47.15" fill="#a8a8d4"/>
<rect x="1110.85" y="3102.50" width="130.00" height="47.15" fill="#6969b4"/>
<rect x="1244.15" y="3102.50" width="130.00" height="47.15" fill="#cfcfe7"/>
<rect x="177.75" y="3152.95" width="130.00" height="47.15" fill="#fcf6f6"/>
<rect x="311.05" y="3152.95" width="130.00" height="47.15" fill="#c14e4e"/>
<rect x="444.35" y="3152.95" width="130.00" height="47.15" fill="#f0d3d3"/>
<rect x="577.65" y="3152.95" width="130.00" height="47.15" fill="#6e6eb7"/>
<rect x="710.95" y="3152.95" width="130.00" height="47.15" fill="#6b6bb5"/>
<rect x="844.25" y="3152.95" width="130.00" height="47.15" fill="#6666b3"/>
<rect x="977.55" y="3152.95" width="130.00" height="47.15" fill="#f7f7fb"/>
<rect x="1110.85" y="3152.95" width="130.00" height="47.15" fill="#c25050"/>
<rect x="1244.15" y="3152.95" width="130.00" height="47.15" fill="#fcfcfe"/>
<rect x="177.75" y="3203.40" width="130.00" height="47.15" fill="#d38181"/>
<rect x="311.05" y="3203.40" width="130.00" height="47.15" fill="#c14e4e"/>
<rect x="444.35" y="3203.40" width="130.00" height="47.15" fill="#c86262"/>
<rect x="577.65" y="3203.40" width="130.00" height="47.15" fill="#9696cb"/>
<rect x="710.95" y="3203.40" width="130.00" height="47.15" fill="#a3a3d1"/>
<rect x="844.25" y="3203.40" width="130.00" height="47.15" fill="#5959ac"/>
<rect x="977.55" y="3203.40" width="130.00" height="47.15" fill="#cccce6"/>
<rect x="1110.85" y="3203.40" width="130.00" height="47.15" fill="#fdfbfb"/>
<rect x="1244.15" y="3203.40" width="130.00" height="47.15" fill="#8c8cc6"/>
<rect x="177.75" y="3253.85" width="130.00" height="47.15" fill="#cb6969"/>
<rect x="311.05" y="3253.85" width="130.00" height="47.15" fill="#cf7676"/>
<rect x="444.35" y="3253.85" width="130.00" height="47.15" fill="#d38181"/>
<rect x="577.65" y="3253.85" width="130.00" height="47.15" fill="#5c5cae"/>
<rect x="710.95" y="3253.85" width="130.00" height="47.15" fill="#6b6bb5"/>
<rect x="844.25" y="3253.85" width="130.00" height="47.15" fill="#4f4fa7"/>
<rect x="977.55" y="3253.85" width="130.00" height="47.15" fill="#e6e6f2"/>
<rect x="1110.85" y="3253.85" width="130.00" height="47.15" fill="#f7e9e9"/>
<rect x="1244.15" y="3253.85" width="130.00" height="47.15" fill="#f9eded"/>
<rect x="177.75" y="3304.30" width="130.00" height="47.15" fill="#d89090"/>
<rect x="311.05" y="3304.30" width="130.00" height="47.15" fill="#c14e4e"/>
<rect x="444.35" y="3304.30" width="130.00" height="47.15" fill="#da9595"/>
<rect x="577.65" y="3304.30" width="130.00" height="47.15" fill="#b2b2d9"/>
<rect x="710.95" y="3304.30" width="130.00" height="47.15" fill="#8f8fc7"/>
<rect x="844.25" y="3304.30" width="130.00" height="47.15" fill="#000080"/>
<rect x="977.55" y="3304.30" width="130.00" height="47.15" fill="#f5f5fa"/>
<rect x="1110.85" y="3304.30" width="130.00" height="47.15" fill="#f9eded"/>
<rect x="1244.15" y="3304.30" width="130.00" height="47.15" fill="#fafafc"/>
</g>
<g class="r" font-size="41.67">
<text transform="translate(1402.2,464.8) scale(1,0.9550)">Arbutin</text>
<text transform="translate(1402.2,515.3) scale(1,0.9550)">Melilotin</text>
<text transform="translate(1402.2,565.7) scale(1,0.9550)">N-Acetyl-leukotriene E4</text>
<text transform="translate(1402.2,616.2) scale(1,0.9550)">(3beta,22E,24R)-Ergosta-4,6,8(14),22-tetraen-3-ol</text>
<text transform="translate(1402.2,666.6) scale(1,0.9550)">Cilligen</text>
<text transform="translate(1402.2,717.1) scale(1,0.9550)">D-Digitoxose</text>
<text transform="translate(1402.2,767.5) scale(1,0.9550)">4-Nitrophenyl sulfate</text>
<text transform="translate(1402.2,818.0) scale(1,0.9550)">Biflorin</text>
<text transform="translate(1402.2,868.4) scale(1,0.9550)">Glycerol 3-Phosphate</text>
<text transform="translate(1402.2,918.9) scale(1,0.9550)">(S)-Mandelic acid O-beta-D-Glucopyranoside</text>
<text transform="translate(1402.2,969.3) scale(1,0.9550)">Deacetylnomilinic acid</text>
<text transform="translate(1402.2,1019.8) scale(1,0.9550)">Valerenic acid</text>
<text transform="translate(1402.2,1070.2) scale(1,0.9550)">D-Erythrose 4-phosphate</text>
<text transform="translate(1402.2,1120.7) scale(1,0.9550)">Isopropyl tartaric acid</text>
<text transform="translate(1402.2,1171.1) scale(1,0.9550)">Cyclohexyladenosine</text>
<text transform="translate(1402.2,1221.6) scale(1,0.9550)">Pentanamide</text>
<text transform="translate(1402.2,1272.0) scale(1,0.9550)">10H-Pyrido(3,2-b)(1,4)benzothiazine</text>
<text transform="translate(1402.2,1322.5) scale(1,0.9550)">2-O-a-D-Galactopyranuronosyl-L-rhamnose</text>
<text transform="translate(1402.2,1372.9) scale(1,0.9550)">Glyceric Acid</text>
<text transform="translate(1402.2,1423.4) scale(1,0.9550)">2-Deoxystreptamine</text>
<text transform="translate(1402.2,1473.8) scale(1,0.9550)">4-Hydroxybenzaldehyde</text>
<text transform="translate(1402.2,1524.3) scale(1,0.9550)">(2S,3R,4R)-2-Amino-3,4-dihydroxy-2-enoic acid</text>
<text transform="translate(1402.2,1574.7) scale(1,0.9550)">Ononin</text>
<text transform="translate(1402.2,1625.2) scale(1,0.9550)">Malic Acid</text>
<text transform="translate(1402.2,1675.6) scale(1,0.9550)">Asparaginyl-Proline</text>
<text transform="translate(1402.2,1726.1) scale(1,0.9550)">Quinapril</text>
<text transform="translate(1402.2,1776.5) scale(1,0.9550)">5,7-Dihydroxy-4&#x27;-methoxy-8-methylflavanone</text>
<text transform="translate(1402.2,1827.0) scale(1,0.9550)">Chromozym PL</text>
<text transform="translate(1402.2,1877.4) scale(1,0.9550)">2-(1,2,3,4-Tetrahydroxybutyl)thiazolidine-4-carboxylic acid</text>
<text transform="translate(1402.2,1927.9) scale(1,0.9550)">Lactose</text>
<text transform="translate(1402.2,1978.3) scale(1,0.9550)">Citrulline</text>
<text transform="translate(1402.2,2028.8) scale(1,0.9550)">Val Gly His</text>
<text transform="translate(1402.2,2079.2) scale(1,0.9550)">Aspartyl-Proline</text>
<text transform="translate(1402.2,2129.7) scale(1,0.9550)">Ornithine</text>
<text transform="translate(1402.2,2180.1) scale(1,0.9550)">Fluvoxamino acid</text>
<text transform="translate(1402.2,2230.6) scale(1,0.9550)">Occidentoside</text>
<text transform="translate(1402.2,2281.0) scale(1,0.9550)">Dextran</text>
<text transform="translate(1402.2,2331.5) scale(1,0.9550)">Cndac</text>
<text transform="translate(1402.2,2381.9) scale(1,0.9550)">Prenyl glucoside</text>
<text transform="translate(1402.2,2432.4) scale(1,0.9550)">Melphalan</text>
<text transform="translate(1402.2,2482.8) scale(1,0.9550)">Beta-D-Xylopyranosyl-(1-&gt;5)-L-arabinose</text>
<text transform="translate(1402.2,2533.3) scale(1,0.9550)">7-Epi-12-hydroxyjasmonic acid</text>
<text transform="translate(1402.2,2583.7) scale(1,0.9550)">Remikiren</text>
<text transform="translate(1402.2,2634.2) scale(1,0.9550)">PE(20:4(8Z,11Z,14Z,17Z)-2OH(5S,6R)/16:0)</text>
<text transform="translate(1402.2,2684.6) scale(1,0.9550)">Simonin IV</text>
<text transform="translate(1402.2,2735.1) scale(1,0.9550)">Puberanidine</text>
<text transform="translate(1402.2,2785.5) scale(1,0.9550)">3-O-beta-D-Galactopyranosyl-L-arabinose</text>
<text transform="translate(1402.2,2836.0) scale(1,0.9550)">Lipoyl-AMP</text>
<text transform="translate(1402.2,2886.4) scale(1,0.9550)">2-(2-Amino-3-methoxyphenyl)-4H-1-benzopyran-4-one</text>
<text transform="translate(1402.2,2936.9) scale(1,0.9550)">Zanamivir</text>
<text transform="translate(1402.2,2987.3) scale(1,0.9550)">2-Amino-4-oxo-6-(1&#x27;,2&#x27;-dioxoprolyl)-7,8-dihydroxypteridine</text>
<text transform="translate(1402.2,3037.8) scale(1,0.9550)">Oxmetidine</text>
<text transform="translate(1402.2,3088.2) scale(1,0.9550)">Benazepril</text>
<text transform="translate(1402.2,3138.7) scale(1,0.9550)">Delapril diacid</text>
<text transform="translate(1402.2,3189.1) scale(1,0.9550)">Val Ser Ile</text>
<text transform="translate(1402.2,3239.6) scale(1,0.9550)">3-Pyroglutamylthiazolidine-4-carboxylic acid</text>
<text transform="translate(1402.2,3290.0) scale(1,0.9550)">4-Trimethylammoniobutanoic Acid</text>
<text transform="translate(1402.2,3340.5) scale(1,0.9550)">Isoleucylhydroxyproline</text>
</g>
<g class="r" font-size="41.67" text-anchor="end">
<text transform="matrix(0.500,-0.927,0.890,0.559,253.8,3390.0)" x="0" y="0">H67</text>
<text transform="matrix(0.500,-0.927,0.890,0.559,387.1,3390.0)" x="0" y="0">H65</text>
<text transform="matrix(0.500,-0.927,0.890,0.559,520.4,3390.0)" x="0" y="0">H66</text>
<text transform="matrix(0.500,-0.927,0.890,0.559,653.7,3390.0)" x="0" y="0">H38</text>
<text transform="matrix(0.500,-0.927,0.890,0.559,787.0,3390.0)" x="0" y="0">H37</text>
<text transform="matrix(0.500,-0.927,0.890,0.559,920.3,3390.0)" x="0" y="0">H39</text>
<text transform="matrix(0.500,-0.927,0.890,0.559,1053.5,3390.0)" x="0" y="0">H45</text>
<text transform="matrix(0.500,-0.927,0.890,0.559,1186.9,3390.0)" x="0" y="0">H44</text>
<text transform="matrix(0.500,-0.927,0.890,0.559,1320.2,3390.0)" x="0" y="0">H46</text>
</g>
<path d="M376.1 369.1V331.3H509.4V369.1M242.8 369.1V324.2H442.7V331.3M776.0 369.1V334.5H909.3V369.1M642.7 369.1V316.7H842.6V334.5M1175.9 369.1V321.5H1309.2V369.1M1042.5 369.1V306.9H1242.5V321.5M742.6 316.7V256.5H1142.5V306.9M342.7 324.2V134.7H942.6V256.5" fill="none" stroke="#000" stroke-width="3.0" stroke-linejoin="round"/>
<path d="M116.9 603.6H110.8V654.0H116.9M116.9 553.1H104.6V628.8H110.8M116.9 502.7H99.7V591.0H104.6M116.9 452.2H93.2V546.8H99.7M116.9 754.9H104.6V805.4H116.9M116.9 704.5H98.3V780.1H104.6M116.9 855.8H102.6V906.3H116.9M116.9 956.7H98.3V1007.2H116.9M102.6 881.1H90.1V982.0H98.3M98.3 742.3H85.5V931.5H90.1M116.9 1158.5H107.4V1209.0H116.9M116.9 1108.1H106.0V1183.8H107.4M116.9 1309.9H109.7V1360.3H116.9M116.9 1259.4H103.4V1335.1H109.7M106.0 1145.9H102.2V1297.3H103.4M116.9 1057.6H93.2V1221.6H102.2M116.9 1461.2H102.6V1511.7H116.9M116.9 1410.8H92.3V1486.5H102.6M93.2 1139.6H81.2V1448.6H92.3M85.5 836.9H73.8V1294.1H81.2M93.2 499.5H65.1V1065.5H73.8M116.9 1562.1H96.2V1612.6H116.9M116.9 1763.9H109.7V1814.4H116.9M116.9 1713.5H103.4V1789.2H109.7M116.9 1663.0H99.5V1751.3H103.4M116.9 1915.3H112.0V1965.7H116.9M116.9 1864.8H107.4V1940.5H112.0M116.9 2016.2H108.5V2066.6H116.9M116.9 2117.1H109.4V2167.5H116.9M116.9 2218.0H112.0V2268.4H116.9M116.9 2419.8H114.9V2470.2H116.9M116.9 2369.3H112.6V2445.0H114.9M116.9 2318.9H111.1V2407.2H112.6M112.0 2243.2H109.7V2363.0H111.1M116.9 2823.4H115.4V2873.8H116.9M116.9 2772.9H114.3V2848.6H115.4M116.9 2722.5H113.4V2810.8H114.3M116.9 2672.0H112.8V2766.6H113.4M116.9 2621.6H110.8V2719.3H112.8M116.9 2571.1H110.0V2670.4H110.8M116.9 2520.7H108.9V2620.8H110.0M109.7 2303.1H108.2V2570.7H108.9M109.4 2142.3H106.8V2461.0H108.2M108.5 2041.4H103.4V2301.7H106.8M107.4 1902.7H100.5V2171.5H103.4M116.9 2974.7H113.5V3025.2H116.9M116.9 2924.3H108.9V3000.0H113.5M116.9 3075.6H105.6V3126.1H116.9M108.9 2962.1H98.4V3100.9H105.6M100.5 2037.1H96.2V3031.5H98.4M99.5 1707.2H90.3V2534.3H96.2M96.2 1587.3H87.5V2120.7H90.3M116.9 3277.4H99.3V3327.9H116.9M116.9 3227.0H95.7V3302.7H99.3M116.9 3176.5H79.9V3264.8H95.7M87.5 1854.0H59.5V3220.7H79.9M65.1 782.5H20.8V2537.4H59.5M107.5 2302.0V2616.0M108.8 2302.0V2616.0M110.1 2302.0V2714.0M111.4 2316.0V2714.0M112.7 2330.0V2460.0M113.0 2616.0V2811.0M114.2 2616.0V2811.0M115.2 2571.0V2849.0M116.2 2600.0V2874.0" fill="none" stroke="#000" stroke-width="2.5" stroke-linejoin="round"/>
<g class="r" font-size="41.9">
<rect x="2073.9" y="238.9" width="39.1" height="38.0" fill="#8491B4"/>
<text transform="translate(2120.6,270.9) scale(1,0.985)">BGEL</text>
<rect x="2073.9" y="303.9" width="39.1" height="37.1" fill="#91D1C2"/>
<text transform="translate(2120.6,334.6) scale(1,0.985)">CON</text>
<rect x="2073.9" y="367.9" width="39.1" height="37.1" fill="#DC0000"/>
<text transform="translate(2120.6,398.5) scale(1,0.985)">BGE</text>
</g>
<defs><linearGradient id="cb" x1="0" y1="0" x2="0" y2="1"><stop offset="0" stop-color="#B22222"/><stop offset="0.494" stop-color="#ffffff"/><stop offset="1" stop-color="#000080"/></linearGradient></defs>
<rect x="2363.9" y="960.8" width="60.1" height="292.1" fill="url(#cb)"/>
<line x1="2423.5" x2="2432.3" y1="1026.7" y2="1026.7" stroke="#737373" stroke-width="3"/>
<text transform="translate(2440.6,1038.1) scale(1,1.03)" font-size="35.8">1</text>
<line x1="2423.5" x2="2432.3" y1="1106.5" y2="1106.5" stroke="#737373" stroke-width="3"/>
<text transform="translate(2440.6,1117.9) scale(1,1.03)" font-size="35.8">0</text>
<line x1="2423.5" x2="2432.3" y1="1186.6" y2="1186.6" stroke="#737373" stroke-width="3"/>
<text transform="translate(2440.6,1198.0) scale(1,1.03)" font-size="35.8">-1</text>
<g class="r" font-size="38.7">
<rect x="2191.9" y="2047.0" width="37.1" height="36.0" fill="#E64B35"/>
<text transform="translate(2237.5,2076.3) scale(1,0.928)">Subcluster 1</text>
<rect x="2191.9" y="2108.0" width="37.1" height="36.0" fill="#4DBBD5"/>
<text transform="translate(2237.5,2137.3) scale(1,0.928)">Subcluster 2</text>
<rect x="2191.9" y="2169.0" width="37.1" height="36.9" fill="#00A087"/>
<text transform="translate(2237.5,2198.3) scale(1,0.928)">Subcluster 3</text>
<rect x="2191.9" y="2230.0" width="37.1" height="36.0" fill="#3C5488"/>
<text transform="translate(2237.5,2259.3) scale(1,0.928)">Subcluster 4</text>
<rect x="2191.9" y="2291.0" width="37.1" height="36.0" fill="#F39B7F"/>
<text transform="translate(2237.5,2320.3) scale(1,0.928)">Subcluster 5</text>
</g>
</svg></body></html>
